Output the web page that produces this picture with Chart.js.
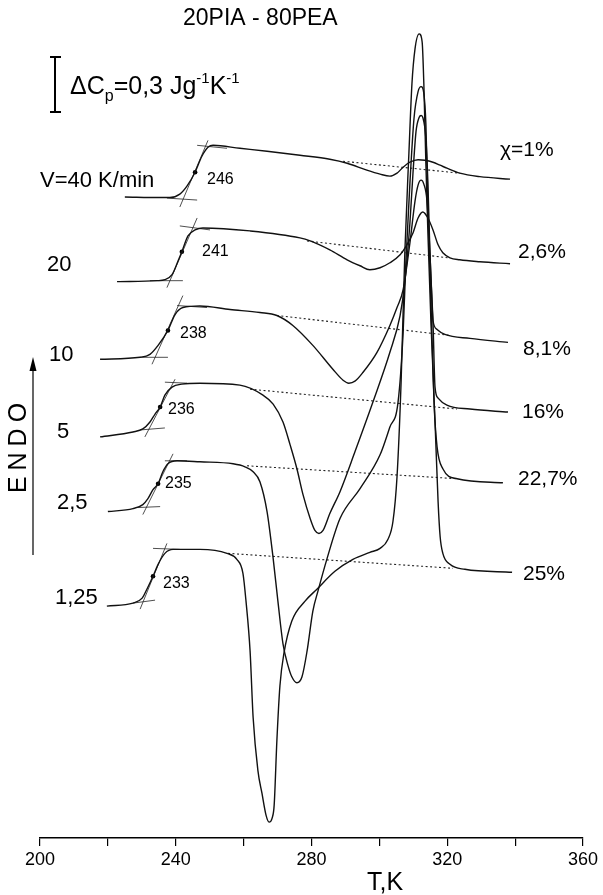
<!DOCTYPE html>
<html>
<head>
<meta charset="utf-8">
<script src="https://cdn.jsdelivr.net/npm/chart.js@4.4.0/dist/chart.umd.min.js"></script>
<style>
  html, body { margin: 0; padding: 0; background: #fff; }
</style>
</head>
<body>
<canvas id="dsc" width="603" height="895"></canvas>
<script>
// DSC heating scans of the 20PIA - 80PEA blend at different rates
// x = T (K), y = heat flow, arbitrary units (curves shifted up/down)

const rateLabels = ['V=40 K/min', '20', '10', '5', '2,5', '1,25'];
const tgLabels = ['246', '241', '238', '236', '235', '233'];
const crystLabels = ['χ=1%', '2,6%', '8,1%', '16%', '22,7%', '25%'];
const xTickStep = 20;
const xLabelStep = 40;

const curve40 = [[225.0,644],[235.4,643.5],[238.3,643.5],[241.2,647],[243.3,655],[245.7,669],[247.7,685],[249.5,694],[251.0,696],[258.9,693],[266.9,690],[276.6,686],[285.4,682],[290.5,678],[296.3,671],[300.2,667],[303.1,665],[305.2,668],[307.0,674],[309.0,679],[311.4,681.5],[313.4,681],[315.8,679],[317.9,676],[319.9,673],[323.7,668],[329.6,664.5],[338.5,662]];
const curve20 = [[222.7,559],[234.5,560],[236.8,561],[238.9,566],[240.7,580],[241.8,589],[243.6,605],[245.7,611],[248.0,613],[261.9,610],[276.6,603],[279.6,600],[285.4,591],[290.5,581],[294.3,575],[297.2,571],[300.2,573],[303.1,578],[306.1,586],[308.1,596],[309.9,608],[311.4,623],[312.8,629],[314.3,623],[315.8,611],[317.3,596],[318.7,588],[320.8,583],[323.7,581],[329.6,579],[338.5,577]];
const curve10 = [[217.7,481],[229.5,483],[232.4,486],[234.8,495],[237.7,510],[239.8,526],[242.1,533],[247.1,534.5],[256.0,531],[264.8,528],[269.8,525],[274.5,515],[280.4,495],[286.3,471],[289.3,460],[291.0,457],[292.8,459],[295.2,468],[299.3,488],[303.1,515],[305.2,533],[307.0,551],[309.0,598],[310.5,640],[311.4,656],[312.3,661],[313.1,657],[314.0,641],[314.9,588],[315.5,538],[315.8,520],[317.0,511],[319.3,506],[326.7,502],[337.9,498]];
const curve5 = [[217.7,403],[227.4,408],[230.3,411],[232.4,418],[233.9,426],[235.4,433],[236.8,445],[238.9,453],[241.8,456],[247.1,457],[258.9,455],[265.7,445],[268.7,436],[271.6,418],[273.7,395],[275.7,371],[277.5,345],[279.6,321],[281.0,309],[282.2,306],[283.4,309],[285.4,326],[288.4,348],[292.8,388],[298.1,438],[303.1,488],[306.1,525],[307.5,558],[309.0,618],[309.9,668],[310.8,710],[311.7,724],[312.3,726],[312.8,724],[313.7,703],[314.3,658],[314.9,588],[315.8,518],[316.4,453],[317.3,442],[319.9,435],[326.7,431],[337.9,428]];
const curve2_5 = [[220.0,328],[227.4,331],[230.3,335],[231.8,341],[233.3,350],[234.8,356],[236.2,368],[237.7,376],[240.4,379],[247.1,378],[256.9,376],[260.4,373],[262.8,368],[264.8,358],[266.9,328],[268.7,281],[270.1,238],[271.6,195],[273.1,173],[274.2,162],[275.7,156],[277.2,162],[278.7,188],[280.4,228],[281.9,248],[284.6,281],[288.4,321],[294.3,351],[300.2,385],[303.1,413],[305.5,438],[307.0,508],[307.8,578],[309.0,658],[310.2,723],[311.4,750],[312.3,755],[313.1,748],[313.7,718],[314.3,638],[315.2,538],[316.1,438],[317.0,393],[318.7,371],[322.9,361],[336.4,357]];
const curve1_25 = [[219.7,233],[227.4,236],[230.1,241],[231.5,250],[233.3,263],[234.8,275],[236.8,286],[239.2,290],[247.1,290],[255.1,286],[258.0,280],[259.8,266],[260.7,238],[261.9,188],[262.8,121],[264.2,68],[265.4,45],[266.6,23],[267.5,16],[268.4,20],[269.0,33],[269.8,98],[270.7,153],[271.9,186],[274.2,218],[278.1,238],[281.6,250],[286.9,268],[292.2,280],[297.2,287],[300.2,291],[302.5,300],[304.0,318],[305.2,363],[306.4,458],[307.5,588],[308.7,688],[309.6,758],[310.5,793],[311.7,808],[312.6,800],[313.1,758],[313.7,678],[314.3,608],[315.2,518],[316.4,418],[317.3,338],[317.9,303],[318.7,286],[320.8,275],[325.2,270],[339.1,267]];

// extrapolated baselines (dotted)
const base40 = [[289.3,680],[323.7,668]];
const base20 = [[278.7,600],[320.2,583]];
const base10 = [[269.8,525],[320.8,505]];
const base5 = [[261.9,451],[322.9,431]];
const base2_5 = [[261.0,374],[322.9,361]];
const base1_25 = [[255.4,286],[321.7,271]];

// tangents at the glass transition: lower, steep, upper
const tan40 = [[[237.4,643],[246.3,641]],[[241.2,634],[249.5,701]],[[246.3,696],[255.1,693]]];
const tan20 = [[[232.4,560],[242.1,560]],[[237.4,553],[246.3,623]],[[241.2,615],[250.1,611]]];
const tan10 = [[[229.5,483],[237.7,483]],[[233.0,476],[242.1,545]],[[240.4,535],[249.2,533]]];
const tan5 = [[[229.5,410],[236.8,412]],[[230.9,403],[239.8,461]],[[236.8,458],[243.3,457]]];
const tan2_5 = [[[228.6,332],[235.4,333]],[[230.3,325],[239.2,386]],[[236.8,379],[243.3,379]]];
const tan1_25 = [[[227.4,236],[233.9,239]],[[229.5,230],[237.4,296]],[[233.3,291],[241.2,290]]];

// inflection points (Tg)
const tgPoints = [[245.7,669],[241.8,589],[237.7,510],[235.4,433],[234.8,356],[233.3,263]];

const FONT = '"Liberation Sans", Arial, sans-serif';
const toXY = arr => arr.map(([x, y]) => ({ x, y }));

const curves = [curve40, curve20, curve10, curve5, curve2_5, curve1_25];
const bases = [base40, base20, base10, base5, base2_5, base1_25];
const tangents = [tan40, tan20, tan10, tan5, tan2_5, tan1_25];

const datasets = [];
curves.forEach(c => datasets.push({
  data: toXY(c), borderColor: '#111', borderWidth: 1.4, pointRadius: 0,
  cubicInterpolationMode: 'monotone', fill: false
}));
bases.forEach(b => datasets.push({
  data: toXY(b), borderColor: '#222', borderWidth: 1.1, borderDash: [2, 2.5],
  pointRadius: 0, tension: 0, fill: false
}));
const tanData = [];
tangents.forEach(set => set.forEach(seg => {
  tanData.push(...toXY(seg));
  tanData.push({ x: seg[1][0], y: null });
}));
datasets.push({
  data: tanData, borderColor: '#222', borderWidth: 0.8, pointRadius: 0,
  tension: 0, spanGaps: false, fill: false
});
datasets.push({
  type: 'scatter', data: toXY(tgPoints), pointRadius: 2.3,
  backgroundColor: '#000', borderWidth: 0, showLine: false
});

// all the text of the figure
const textPlugin = {
  id: 'figText',
  afterDraw(chart) {
    const ctx = chart.ctx;
    ctx.save();
    ctx.fillStyle = '#000';
    ctx.strokeStyle = '#000';
    ctx.textBaseline = 'alphabetic';
    ctx.textAlign = 'left';

    ctx.font = '23px ' + FONT;
    ctx.fillText('20PIA - 80PEA', 183, 25);

    // scale bar
    ctx.lineWidth = 2;
    ctx.beginPath();
    ctx.moveTo(55, 57); ctx.lineTo(55, 112);
    ctx.moveTo(50, 57); ctx.lineTo(61, 57);
    ctx.moveTo(50, 112); ctx.lineTo(61, 112);
    ctx.stroke();
    let x = 70;
    const y = 94;
    const parts = [['ΔC', 25, 0], ['p', 16, 7], ['=0,3 Jg', 25, 0], ['-1', 15, -11], ['K', 25, 0], ['-1', 15, -11]];
    parts.forEach(([t, s, dy]) => {
      ctx.font = s + 'px ' + FONT;
      ctx.fillText(t, x, y + dy);
      x += ctx.measureText(t).width;
    });

    const ratePos = [[40,187],[47,271],[49,361],[57,438],[57,509],[55,604]];
    ctx.font = '22px ' + FONT;
    rateLabels.forEach((t, i) => ctx.fillText(t, ratePos[i][0], ratePos[i][1]));

    const tgPos = [[207,184],[202,256],[180,338],[168,414],[165,488],[163,588]];
    ctx.font = '16px ' + FONT;
    tgLabels.forEach((t, i) => ctx.fillText(t, tgPos[i][0], tgPos[i][1]));

    const crPos = [[500,156],[518,258],[523,355],[522,418],[518,485],[523,580]];
    ctx.font = '21px ' + FONT;
    crystLabels.forEach((t, i) => ctx.fillText(t, crPos[i][0], crPos[i][1]));

    // ENDO arrow
    ctx.lineWidth = 1.2;
    ctx.beginPath();
    ctx.moveTo(33, 555); ctx.lineTo(33, 366);
    ctx.stroke();
    ctx.beginPath();
    ctx.moveTo(33, 357); ctx.lineTo(29.5, 371); ctx.lineTo(36.5, 371);
    ctx.closePath(); ctx.fill();
    ctx.save();
    ctx.translate(19, 448);
    ctx.rotate(-Math.PI / 2);
    ctx.font = '25px ' + FONT;
    ctx.textAlign = 'center';
    ctx.textBaseline = 'middle';
    ctx.letterSpacing = '6px';
    ctx.fillText('ENDO', 3, 0);
    ctx.restore();

    ctx.font = '25px ' + FONT;
    ctx.textAlign = 'center';
    ctx.fillText('T,K', 385, 890);
    ctx.restore();
  }
};

new Chart(document.getElementById('dsc'), {
  type: 'line',
  data: { datasets },
  options: {
    responsive: false,
    animation: false,
    devicePixelRatio: 1,
    layout: { padding: { left: 40, right: 20, top: 0, bottom: 0 } },
    plugins: { legend: { display: false }, tooltip: { enabled: false } },
    scales: {
      x: {
        type: 'linear', min: 200, max: 360,
        afterFit(s) { s.height = 57; },
        ticks: {
          stepSize: xTickStep, autoSkip: false, maxRotation: 0, color: '#000', padding: 3,
          font: { family: FONT, size: 18 },
          callback: v => (v % xLabelStep === 0 ? v : '')
        },
        grid: { drawOnChartArea: false, drawTicks: true, tickLength: 8, color: '#000', lineWidth: 1.2 },
        border: { display: true, color: '#000', width: 1.5 }
      },
      y: { display: false, min: 0, max: 838 }
    }
  },
  plugins: [textPlugin]
});
</script>
</body>
</html>
